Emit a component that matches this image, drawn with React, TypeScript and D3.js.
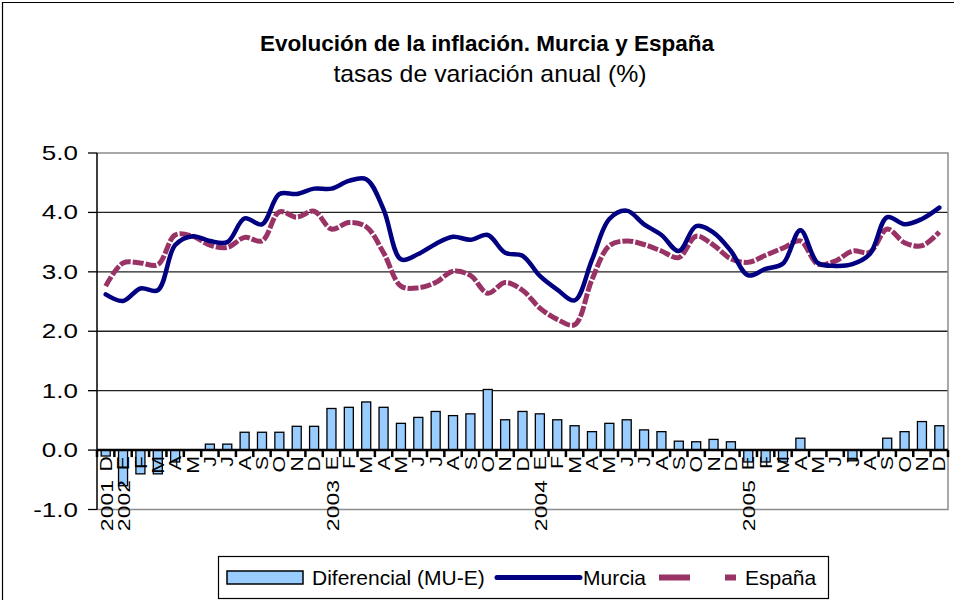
import React, { useEffect, useRef } from 'react';
import * as d3 from 'd3';

// Categories: month initials, with the year in front of the first month of each year
const categories = [
  '2001 D',
  '2002 E', 'F', 'M', 'A', 'M', 'J', 'J', 'A', 'S', 'O', 'N', 'D',
  '2003 E', 'F', 'M', 'A', 'M', 'J', 'J', 'A', 'S', 'O', 'N', 'D',
  '2004 E', 'F', 'M', 'A', 'M', 'J', 'J', 'A', 'S', 'O', 'N', 'D',
  '2005 E', 'F', 'M', 'A', 'M', 'J', 'J', 'A', 'S', 'O', 'N', 'D',
];

const murcia = [
  2.62,
  2.51, 2.72, 2.69, 3.45, 3.6, 3.52, 3.5, 3.9, 3.8, 4.31, 4.31, 4.4,
  4.4, 4.53, 4.56, 4.05, 3.21, 3.3, 3.47, 3.59, 3.54, 3.62, 3.32, 3.27,
  2.93, 2.7, 2.52, 3.2, 3.89, 4.03, 3.8, 3.62, 3.35, 3.77, 3.66, 3.35,
  2.94, 3.05, 3.14, 3.7, 3.15, 3.1, 3.13, 3.3, 3.92, 3.8, 3.89, 4.08,
];

const espana = [
  2.76,
  3.15, 3.15, 3.12, 3.62, 3.6, 3.45, 3.41, 3.58, 3.52, 4.01, 3.92, 4.02,
  3.72, 3.83, 3.76, 3.32, 2.76, 2.73, 2.82, 3.01, 2.94, 2.64, 2.82, 2.69,
  2.39, 2.2, 2.11, 2.87, 3.44, 3.52, 3.46, 3.35, 3.24, 3.6, 3.45, 3.22,
  3.16, 3.28, 3.4, 3.52, 3.13, 3.18, 3.35, 3.33, 3.72, 3.49, 3.44, 3.67,
];

const diferencial = [
  -0.1,
  -0.6, -0.4, -0.4, -0.2, 0, 0.1, 0.1, 0.3, 0.3, 0.3, 0.4, 0.4,
  0.7, 0.72, 0.81, 0.72, 0.45, 0.55, 0.65, 0.58, 0.61, 1.02, 0.51, 0.65,
  0.61, 0.51, 0.41, 0.31, 0.45, 0.51, 0.34, 0.31, 0.15, 0.14, 0.18, 0.14,
  -0.2, -0.2, -0.2, 0.2, 0, 0, -0.18, 0, 0.2, 0.31, 0.48, 0.41,
];

const yTicks = [-1, 0, 1, 2, 3, 4, 5];

const title = 'Evolución de la inflación. Murcia y España';
const subtitle = 'tasas de variación anual (%)';
const legendLabels = ['Diferencial (MU-E)', 'Murcia', 'España'];

const FONT = '"Liberation Sans", Arial, sans-serif';
const MURCIA_COLOR = '#000080';
const ESPANA_COLOR = '#993366';
const BAR_COLOR = '#99CCFF';

const App = () => {
  const svgRef = useRef(null);

  useEffect(() => {
    const width = 954;
    const height = 600;
    const plot = { left: 97, right: 948, top: 153, bottom: 509.5 };

    const svg = d3.select(svgRef.current);
    svg.selectAll('*').remove();

    svg.append('rect')
      .attr('width', width)
      .attr('height', height)
      .attr('fill', '#fff');

    // outer chart border (left and top edges are visible)
    svg.append('path')
      .attr('d', `M2.5,${height} V2.5 H${width}`)
      .attr('fill', 'none')
      .attr('stroke', '#000')
      .attr('stroke-width', 1.2);

    // titles
    svg.append('text')
      .attr('x', 487)
      .attr('y', 51)
      .attr('text-anchor', 'middle')
      .attr('font-family', FONT)
      .attr('font-size', 22.5)
      .attr('font-weight', 'bold')
      .text(title);

    svg.append('text')
      .attr('transform', 'translate(490,82) scale(1.08,1)')
      .attr('text-anchor', 'middle')
      .attr('font-family', FONT)
      .attr('font-size', 23)
      .text(subtitle);

    // scales
    const xScale = d3.scaleBand()
      .domain(d3.range(categories.length))
      .range([plot.left, plot.right])
      .paddingInner(0.48)
      .paddingOuter(0.24);
    const cx = i => xScale(i) + xScale.bandwidth() / 2;

    const yScale = d3.scaleLinear()
      .domain([-1, 5])
      .range([plot.bottom, plot.top]);

    // gridlines
    svg.append('g')
      .selectAll('line')
      .data(yTicks.filter(t => t > 0 && t < 5))
      .join('line')
      .attr('x1', plot.left)
      .attr('x2', plot.right)
      .attr('y1', d => yScale(d))
      .attr('y2', d => yScale(d))
      .attr('stroke', '#222')
      .attr('stroke-width', 1.3);

    // plot area border (grey)
    svg.append('path')
      .attr('d', `M${plot.left},${plot.top} H${plot.right} V${plot.bottom} H${plot.left}`)
      .attr('fill', 'none')
      .attr('stroke', '#8c8c8c')
      .attr('stroke-width', 1.5);

    // y axis
    svg.append('line')
      .attr('x1', plot.left)
      .attr('x2', plot.left)
      .attr('y1', plot.top)
      .attr('y2', plot.bottom)
      .attr('stroke', '#000')
      .attr('stroke-width', 1.5);

    const yAxis = svg.append('g');
    yAxis.selectAll('line')
      .data(yTicks)
      .join('line')
      .attr('x1', plot.left - 9)
      .attr('x2', plot.left)
      .attr('y1', d => yScale(d))
      .attr('y2', d => yScale(d))
      .attr('stroke', '#000')
      .attr('stroke-width', 1.3);
    yAxis.selectAll('text')
      .data(yTicks)
      .join('text')
      .attr('transform', d => `translate(78,${yScale(d) + 7}) scale(1.3,1)`)
      .attr('text-anchor', 'end')
      .attr('font-family', FONT)
      .attr('font-size', 20)
      .text(d => d.toFixed(1));

    // bars
    svg.append('g')
      .selectAll('rect')
      .data(diferencial)
      .join('rect')
      .attr('x', (d, i) => xScale(i))
      .attr('width', xScale.bandwidth())
      .attr('y', d => Math.min(yScale(d), yScale(0)))
      .attr('height', d => Math.abs(yScale(d) - yScale(0)))
      .attr('fill', BAR_COLOR)
      .attr('stroke', '#000')
      .attr('stroke-width', 1.3);

    // x axis
    const zeroY = yScale(0);
    svg.append('line')
      .attr('x1', plot.left)
      .attr('x2', plot.right)
      .attr('y1', zeroY)
      .attr('y2', zeroY)
      .attr('stroke', '#000')
      .attr('stroke-width', 2.5);

    svg.append('g')
      .selectAll('line')
      .data(d3.range(categories.length + 1))
      .join('line')
      .attr('x1', i => plot.left + xScale.step() * i)
      .attr('x2', i => plot.left + xScale.step() * i)
      .attr('y1', zeroY)
      .attr('y2', zeroY + 7)
      .attr('stroke', '#000')
      .attr('stroke-width', 2.5);

    const xLabels = svg.append('g')
      .attr('font-family', FONT);
    categories.forEach((label, i) => {
      const parts = label.split(' ');
      const month = parts[parts.length - 1];
      xLabels.append('text')
        .attr('transform', `translate(${cx(i)},${zeroY + 6}) rotate(-90) scale(1.25,1)`)
        .attr('text-anchor', 'end')
        .attr('dy', '0.36em')
        .attr('font-size', 17)
        .text(month);
      if (parts.length > 1) {
        xLabels.append('text')
          .attr('transform', `translate(${cx(i) + 1},${zeroY + 30}) rotate(-90) scale(1.35,1)`)
          .attr('text-anchor', 'end')
          .attr('dy', '0.36em')
          .attr('font-size', 17)
          .text(parts[0]);
      }
    });

    // lines
    const line = d3.line()
      .x((d, i) => cx(i))
      .y(d => yScale(d))
      .curve(d3.curveCatmullRom.alpha(0.5));

    svg.append('path')
      .datum(espana)
      .attr('fill', 'none')
      .attr('stroke', ESPANA_COLOR)
      .attr('stroke-width', 5)
      .attr('stroke-dasharray', '11,2')
      .attr('d', line);

    svg.append('path')
      .datum(murcia)
      .attr('fill', 'none')
      .attr('stroke', MURCIA_COLOR)
      .attr('stroke-width', 4.5)
      .attr('stroke-linejoin', 'round')
      .attr('stroke-linecap', 'round')
      .attr('d', line);

    // legend
    const legend = svg.append('g')
      .attr('font-family', FONT)
      .attr('font-size', 21);

    legend.append('rect')
      .attr('x', 218.5)
      .attr('y', 556.5)
      .attr('width', 610)
      .attr('height', 42)
      .attr('fill', '#fff')
      .attr('stroke', '#000')
      .attr('stroke-width', 1.2);

    legend.append('rect')
      .attr('x', 227)
      .attr('y', 571)
      .attr('width', 76)
      .attr('height', 13)
      .attr('fill', BAR_COLOR)
      .attr('stroke', '#000')
      .attr('stroke-width', 1.5);
    legend.append('text')
      .attr('x', 312)
      .attr('y', 585)
      .text(legendLabels[0]);

    legend.append('line')
      .attr('x1', 497)
      .attr('x2', 580)
      .attr('y1', 577.5)
      .attr('y2', 577.5)
      .attr('stroke', MURCIA_COLOR)
      .attr('stroke-width', 5)
      .attr('stroke-linecap', 'round');
    legend.append('text')
      .attr('x', 583)
      .attr('y', 585)
      .text(legendLabels[1]);

    legend.append('line')
      .attr('x1', 659)
      .attr('x2', 736)
      .attr('y1', 577.5)
      .attr('y2', 577.5)
      .attr('stroke', ESPANA_COLOR)
      .attr('stroke-width', 6)
      .attr('stroke-dasharray', '31,35');
    legend.append('text')
      .attr('x', 745)
      .attr('y', 585)
      .text(legendLabels[2]);
  }, []);

  return (
    <svg
      ref={svgRef}
      width={954}
      height={600}
      style={{ position: 'absolute', left: 0, top: 0, display: 'block' }}
    ></svg>
  );
};

export default App;
